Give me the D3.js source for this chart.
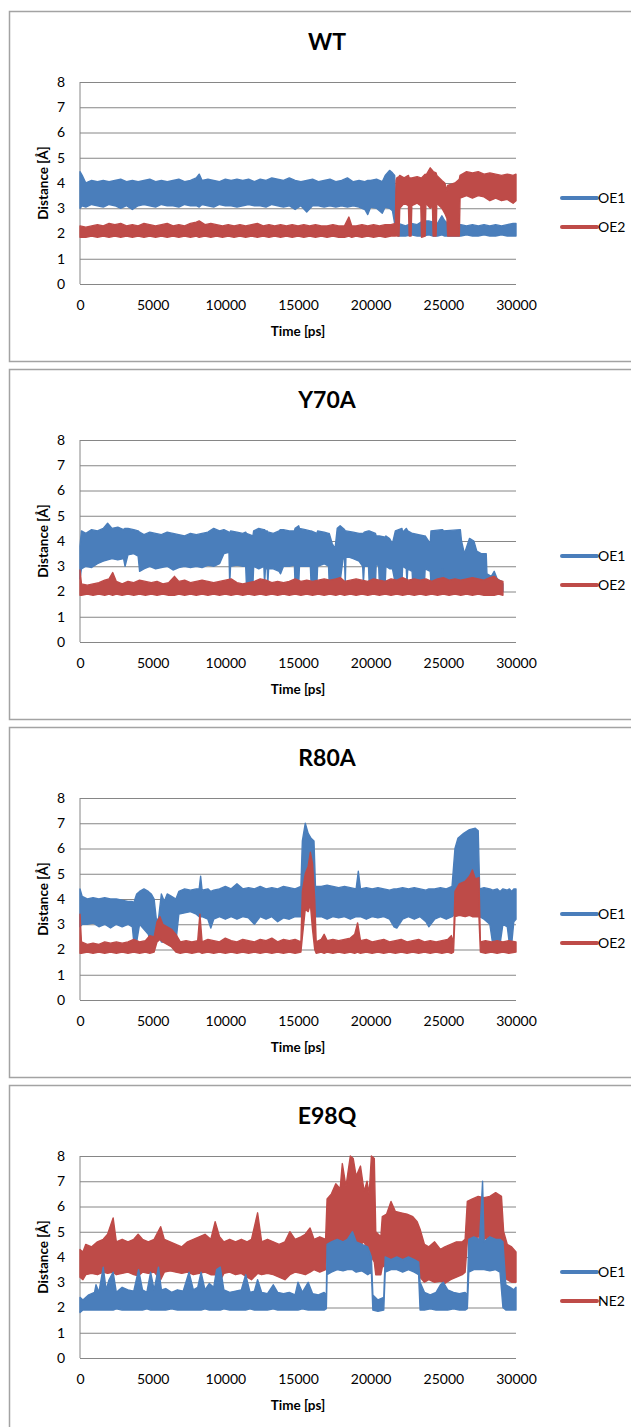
<!DOCTYPE html>
<html><head><meta charset="utf-8">
<script src="https://cdn.jsdelivr.net/npm/d3@7"></script>
<style>
html,body{margin:0;padding:0;background:#fff;}
svg{display:block;font-family:Lato,"Open Sans",sans-serif;}
</style></head>
<body>
<svg id="chart" width="631" height="1427"></svg>
<script>
// ---- data ----
const panelTitles = ["WT", "Y70A", "R80A", "E98Q"];
const legendNames = [["OE1", "OE2"], ["OE1", "OE2"], ["OE1", "OE2"], ["OE1", "NE2"]];
const xTicks = [0, 5000, 10000, 15000, 20000, 25000, 30000];
const yTicks = [0, 1, 2, 3, 4, 5, 6, 7, 8];
// each series: [time ps, lower envelope Å, upper envelope Å]
const wtOE1 = [[0,3.0,4.45],[150,3.1,4.3],[400,3.05,4.0],[800,3.15,4.1],[1200,3.1,4.05],[1600,3.05,4.1],[2000,3.15,4.05],[2400,3.1,4.1],[2800,3.0,4.15],[3200,3.1,4.05],[3600,2.95,4.1],[4000,3.1,4.05],[4400,3.15,4.1],[4800,3.1,4.15],[5200,3.05,4.05],[5600,3.15,4.1],[6000,3.1,4.05],[6400,3.1,4.1],[6800,3.05,4.15],[7200,3.15,4.05],[7600,3.1,4.1],[8000,3.1,4.2],[8200,3.05,4.35],[8400,3.15,4.1],[8800,3.1,4.15],[9200,3.05,4.1],[9600,3.15,4.05],[10000,3.1,4.15],[10400,3.1,4.1],[10800,3.05,4.15],[11200,3.1,4.1],[11600,3.15,4.15],[12000,3.1,4.05],[12400,3.1,4.15],[12800,3.05,4.1],[13200,3.15,4.2],[13600,3.1,4.15],[14000,3.05,4.1],[14400,3.1,4.2],[14800,2.95,4.1],[15200,3.1,4.05],[15600,2.85,4.1],[16000,3.1,4.15],[16400,3.1,4.05],[16800,3.05,4.1],[17200,3.1,4.15],[17600,3.05,4.05],[18000,3.1,4.1],[18400,3.05,4.2],[18800,3.1,4.05],[19200,3.05,4.1],[19600,2.95,4.05],[19800,2.75,4.1],[20000,3.05,4.1],[20400,3.0,4.15],[20800,2.8,4.05],[21000,3.05,4.3],[21300,3.0,4.5],[21500,2.9,4.4],[21650,2.4,4.3],[21750,2.0,3.0],[21900,1.9,2.4],[22400,1.9,2.3],[22800,1.95,2.4],[23200,1.9,2.35],[23600,1.9,2.5],[24000,1.95,2.5],[24300,1.9,2.45],[24600,1.9,2.4],[24900,1.95,2.7],[25100,1.9,2.5],[25400,1.9,2.35],[25800,1.9,2.3],[26200,1.9,2.35],[26600,1.95,2.3],[27000,1.9,2.35],[27400,1.9,2.3],[27800,1.95,2.35],[28200,1.9,2.3],[28600,1.9,2.35],[29000,1.95,2.3],[29400,1.9,2.35],[29800,1.9,2.4],[30000,1.9,2.4]];
const wtOE2 = [[0,1.85,2.3],[400,1.85,2.25],[800,1.9,2.3],[1200,1.85,2.35],[1600,1.9,2.3],[2000,1.85,2.4],[2400,1.9,2.35],[2800,1.85,2.4],[3200,1.9,2.3],[3600,1.85,2.35],[4000,1.9,2.3],[4400,1.85,2.4],[4800,1.9,2.35],[5200,1.85,2.3],[5600,1.9,2.35],[6000,1.85,2.4],[6400,1.9,2.3],[6800,1.85,2.35],[7200,1.9,2.3],[7600,1.85,2.4],[8000,1.9,2.45],[8200,1.85,2.5],[8600,1.9,2.35],[9000,1.85,2.4],[9400,1.9,2.35],[9800,1.85,2.3],[10200,1.9,2.35],[10600,1.85,2.3],[11000,1.9,2.35],[11400,1.85,2.3],[11800,1.9,2.35],[12200,1.85,2.4],[12600,1.9,2.3],[13000,1.85,2.35],[13400,1.9,2.3],[13800,1.85,2.35],[14200,1.9,2.3],[14600,1.85,2.35],[15000,1.9,2.3],[15400,1.85,2.35],[15800,1.9,2.3],[16200,1.85,2.35],[16600,1.9,2.3],[17000,1.85,2.3],[17400,1.9,2.35],[17800,1.85,2.3],[18200,1.85,2.3],[18500,1.9,2.65],[18700,1.85,2.3],[19000,1.9,2.3],[19400,1.85,2.35],[19800,1.9,2.3],[20200,1.85,2.35],[20600,1.9,2.3],[21000,1.85,2.35],[21400,1.9,2.35],[21700,1.9,2.4],[21750,2.0,4.1],[21800,1.9,4.2],[21950,1.9,4.25],[22000,3.0,4.3],[22300,3.2,4.2],[22600,3.1,4.3],[22650,1.9,4.2],[22780,1.9,4.2],[22830,3.1,4.2],[23200,3.2,4.25],[23450,3.1,4.2],[23500,1.85,4.2],[23750,1.9,4.35],[23800,3.2,4.3],[24100,3.0,4.6],[24250,3.1,4.5],[24300,1.9,4.45],[24500,1.9,4.4],[24550,3.2,4.3],[24900,3.0,4.1],[25100,2.8,4.0],[25250,2.6,3.7],[25300,1.9,3.9],[25800,1.9,4.0],[26100,1.9,4.15],[26150,3.4,4.3],[26600,3.5,4.45],[27000,3.4,4.4],[27400,3.5,4.45],[27800,3.45,4.35],[28200,3.3,4.4],[28600,3.4,4.35],[29000,3.3,4.3],[29400,3.35,4.35],[29800,3.2,4.3],[30000,3.3,4.35]];
const y70aOE1 = [[0,2.5,3.8],[100,2.9,4.4],[400,3.0,4.3],[800,2.95,4.45],[1200,3.1,4.4],[1600,3.2,4.5],[1900,3.25,4.7],[2200,3.3,4.5],[2600,3.25,4.55],[3000,3.3,4.45],[3100,3.0,4.5],[3300,3.45,4.5],[3700,3.5,4.45],[4000,3.4,4.4],[4100,2.8,4.35],[4400,2.9,4.25],[4800,3.0,4.35],[5200,2.9,4.3],[5600,2.95,4.25],[6000,3.0,4.35],[6400,2.85,4.3],[6800,2.95,4.25],[7200,3.0,4.2],[7600,2.95,4.3],[8000,3.0,4.25],[8400,2.95,4.3],[8800,3.05,4.35],[9200,3.0,4.5],[9600,3.1,4.4],[9900,3.5,4.45],[10250,3.55,4.35],[10300,2.3,4.3],[10360,3.0,4.4],[10800,3.05,4.35],[11200,3.0,4.3],[11400,3.0,4.35],[11450,2.3,4.3],[11900,2.3,4.2],[11950,3.0,4.4],[12300,2.9,4.5],[12650,3.0,4.45],[12700,2.3,4.45],[12760,2.9,4.4],[12880,2.9,4.4],[12920,2.3,4.35],[12980,2.9,4.35],[13300,2.9,4.3],[13700,2.8,4.4],[13800,2.7,4.45],[14000,3.0,4.45],[14400,3.0,4.4],[14750,3.05,4.4],[14800,2.3,4.5],[15050,2.3,4.6],[15100,3.0,4.5],[15500,3.0,4.45],[15850,3.0,4.4],[15900,2.3,4.4],[16300,2.3,4.3],[16350,3.0,4.4],[16800,3.1,4.35],[17100,3.0,4.3],[17150,2.3,4.3],[17350,2.3,3.9],[17550,2.3,3.7],[17700,2.3,4.5],[17900,2.4,4.6],[18100,3.3,4.5],[18200,3.3,4.45],[18250,2.3,4.4],[18300,3.4,4.4],[18800,3.3,4.35],[19200,3.2,4.3],[19450,3.0,4.3],[19500,2.3,4.3],[19560,3.0,4.35],[19850,3.0,4.4],[19900,2.3,4.4],[20330,2.3,4.3],[20380,3.1,4.2],[20550,3.0,4.2],[20600,2.3,4.2],[21000,2.3,4.15],[21050,3.0,4.2],[21300,2.9,4.1],[21500,2.9,3.9],[21700,2.3,4.4],[22150,2.3,4.5],[22200,3.0,4.35],[22450,2.9,4.5],[22500,2.3,4.45],[22550,2.9,4.4],[22850,2.8,4.3],[22900,2.3,4.3],[23700,2.3,4.2],[23750,2.9,4.2],[24100,2.8,3.9],[24150,2.3,4.4],[24900,2.3,4.45],[24950,2.9,4.45],[25000,2.3,4.4],[26170,2.3,4.45],[26250,2.4,4.0],[26450,2.3,3.5],[26800,2.3,4.1],[27100,2.3,4.0],[27300,2.3,3.6],[27600,2.3,3.5],[27950,2.3,3.5],[28000,2.2,2.7],[28300,2.2,2.6],[28500,1.9,2.8],[28700,2.0,2.5],[29000,2.0,2.4],[29100,2.0,2.3]];
const y70aOE2 = [[0,1.85,2.85],[100,1.85,2.3],[500,1.9,2.25],[900,1.85,2.3],[1300,1.9,2.35],[1700,1.85,2.45],[2000,1.9,2.5],[2250,1.85,2.75],[2500,1.9,2.4],[2900,1.85,2.3],[3300,1.9,2.4],[3700,1.85,2.35],[4100,1.9,2.45],[4500,1.85,2.4],[4900,1.9,2.35],[5300,1.85,2.4],[5700,1.9,2.3],[6100,1.85,2.35],[6500,1.85,2.6],[6800,1.9,2.4],[7200,1.85,2.45],[7600,1.9,2.35],[8000,1.85,2.4],[8400,1.9,2.45],[8800,1.85,2.4],[9200,1.9,2.35],[9600,1.85,2.4],[10000,1.9,2.45],[10400,1.85,2.5],[10800,1.9,2.35],[11200,1.85,2.3],[11600,1.9,2.35],[12000,1.85,2.4],[12400,1.9,2.5],[12800,1.85,2.45],[13200,1.9,2.35],[13600,1.85,2.4],[14000,1.9,2.35],[14400,1.85,2.4],[14800,1.9,2.5],[15200,1.85,2.4],[15600,1.9,2.45],[16000,1.85,2.4],[16400,1.9,2.45],[16800,1.85,2.5],[17200,1.9,2.45],[17600,1.85,2.5],[17900,1.9,2.55],[18200,1.85,2.4],[18600,1.9,2.45],[19000,1.85,2.5],[19400,1.9,2.45],[19800,1.85,2.4],[20200,1.9,2.5],[20600,1.85,2.45],[21000,1.9,2.4],[21400,1.85,2.5],[21800,1.9,2.45],[22200,1.85,2.55],[22600,1.9,2.45],[23000,1.85,2.5],[23400,1.9,2.45],[23800,1.85,2.5],[24200,1.9,2.4],[24600,1.85,2.5],[25000,1.9,2.55],[25400,1.85,2.45],[25800,1.9,2.5],[26200,1.85,2.45],[26600,1.9,2.5],[27000,1.85,2.55],[27400,1.9,2.5],[27800,1.85,2.45],[28200,1.85,2.55],[28500,1.85,2.6],[28800,1.9,2.45],[29100,1.85,2.4]];
const r80aOE1 = [[0,2.9,4.4],[150,3.0,4.1],[500,3.0,4.0],[900,3.05,4.05],[1300,2.9,4.0],[1700,3.0,4.05],[2100,2.85,4.0],[2500,3.0,4.0],[2900,2.9,3.95],[3300,3.0,3.9],[3600,2.9,3.9],[3700,2.3,3.85],[3900,2.3,4.2],[4100,3.0,4.3],[4400,2.8,4.4],[4700,2.6,4.3],[4900,2.2,4.2],[5100,2.0,4.0],[5250,2.5,3.2],[5400,2.6,3.2],[5600,2.3,4.2],[5800,2.3,3.9],[6000,2.3,4.2],[6300,2.4,4.1],[6600,2.3,4.0],[6800,3.4,4.3],[7200,3.45,4.4],[7600,3.5,4.35],[8000,3.4,4.4],[8200,3.3,4.4],[8300,3.3,4.9],[8400,3.3,4.35],[8800,3.2,4.4],[9000,2.85,4.3],[9200,3.2,4.35],[9600,3.3,4.4],[10000,3.2,4.5],[10400,3.3,4.4],[10800,3.2,4.6],[11200,3.3,4.4],[11600,3.25,4.45],[12000,3.0,4.4],[12400,3.3,4.5],[12800,3.2,4.4],[13200,3.3,4.45],[13600,3.1,4.4],[14000,3.25,4.5],[14400,3.2,4.45],[14800,3.3,4.4],[15200,3.3,4.5],[15300,3.8,6.3],[15500,4.0,7.0],[15700,3.9,6.6],[15900,4.0,6.4],[16100,3.4,6.3],[16200,3.3,4.5],[16600,3.3,4.5],[17000,3.2,4.55],[17400,3.3,4.5],[17800,3.25,4.45],[18200,3.3,4.5],[18600,3.2,4.45],[19000,3.3,4.4],[19150,3.3,5.1],[19300,3.3,4.4],[19700,3.2,4.45],[20100,3.3,4.4],[20500,3.25,4.45],[20900,3.3,4.4],[21300,3.2,4.35],[21600,2.9,4.4],[21800,2.85,4.4],[22200,3.2,4.45],[22600,3.3,4.4],[23000,3.2,4.45],[23400,3.3,4.4],[23800,3.1,4.35],[24000,2.9,4.4],[24400,3.2,4.4],[24800,3.3,4.45],[25200,3.2,4.4],[25600,3.3,4.5],[25800,3.4,6.0],[26000,3.8,6.4],[26400,4.0,6.6],[26800,4.0,6.75],[27200,4.0,6.8],[27400,3.6,6.7],[27500,3.3,4.4],[27800,3.2,4.45],[28200,3.0,4.4],[28400,2.2,4.35],[28700,2.2,4.4],[28900,2.2,4.3],[29100,3.0,4.4],[29400,2.9,4.35],[29550,2.2,4.4],[29700,2.2,4.3],[29850,3.1,4.4],[30000,3.2,4.4]];
const r80aOE2 = [[0,1.85,3.4],[100,1.85,2.3],[500,1.9,2.2],[900,1.85,2.25],[1300,1.9,2.2],[1700,1.85,2.3],[2100,1.9,2.25],[2500,1.85,2.3],[2900,1.9,2.25],[3300,1.85,2.3],[3700,1.9,2.4],[4100,1.85,2.3],[4500,1.9,2.35],[4800,1.85,2.55],[5100,1.9,2.5],[5300,2.3,3.1],[5500,2.4,3.3],[5700,2.3,3.0],[6000,2.2,2.9],[6300,2.1,2.8],[6600,1.9,2.6],[6900,1.85,2.3],[7300,1.9,2.35],[7700,1.85,2.3],[8100,1.9,2.35],[8250,1.9,3.4],[8400,1.85,2.3],[8800,1.9,2.4],[9200,1.85,2.35],[9600,1.9,2.3],[10000,1.85,2.45],[10400,1.9,2.35],[10800,1.85,2.3],[11200,1.9,2.4],[11600,1.85,2.35],[12000,1.9,2.3],[12400,1.85,2.4],[12800,1.9,2.35],[13200,1.85,2.45],[13600,1.9,2.3],[14000,1.85,2.4],[14400,1.9,2.35],[14800,1.85,2.4],[15200,1.9,2.3],[15300,2.5,4.3],[15500,3.6,5.0],[15700,3.5,5.3],[15850,3.8,5.85],[16000,2.8,5.4],[16150,2.0,4.0],[16250,1.85,2.3],[16600,1.9,2.4],[16800,1.85,2.6],[17000,1.9,2.35],[17400,1.85,2.4],[17800,1.9,2.35],[18200,1.85,2.4],[18600,1.9,2.45],[18900,1.85,2.6],[19100,1.9,3.05],[19300,1.85,2.35],[19700,1.9,2.4],[20100,1.85,2.3],[20500,1.9,2.35],[20900,1.85,2.4],[21300,1.9,2.3],[21700,1.85,2.35],[22100,1.9,2.4],[22500,1.85,2.3],[22900,1.9,2.35],[23300,1.85,2.4],[23700,1.9,2.3],[24100,1.85,2.35],[24500,1.9,2.3],[24900,1.85,2.35],[25300,1.9,2.4],[25550,1.85,2.55],[25700,1.9,2.3],[25800,3.3,4.3],[26100,3.35,4.6],[26500,3.3,4.7],[26800,3.35,4.9],[27000,3.3,5.15],[27200,3.3,4.8],[27450,3.3,4.85],[27550,1.9,2.3],[27900,1.85,2.35],[28300,1.9,2.3],[28700,1.85,2.35],[29100,1.9,2.3],[29500,1.85,2.35],[30000,1.9,2.3]];
const e98qOE1 = [[0,1.8,2.4],[200,1.9,2.3],[600,1.9,2.5],[1000,1.9,2.6],[1100,1.9,2.9],[1300,1.9,2.6],[1600,1.9,3.6],[1800,1.9,2.7],[2000,1.9,3.1],[2280,1.9,3.4],[2500,1.95,2.6],[2900,1.9,2.8],[3300,1.9,2.7],[3700,1.9,2.65],[4030,1.9,3.5],[4300,1.9,2.7],[4600,1.95,2.6],[4860,1.9,3.4],[5100,1.9,2.7],[5400,1.9,3.6],[5600,1.9,2.7],[5900,1.9,2.75],[6300,1.95,2.6],[6700,1.9,2.7],[7100,1.9,2.65],[7500,1.9,3.4],[7800,1.9,2.7],[8100,1.9,2.8],[8330,1.9,3.4],[8600,1.95,2.7],[8900,1.9,2.95],[9200,1.9,2.8],[9400,1.9,3.5],[9650,1.9,3.6],[9900,1.95,2.7],[10300,1.9,2.6],[10700,1.9,2.65],[11100,1.9,2.7],[11400,1.9,3.3],[11700,1.95,2.6],[12000,1.9,2.65],[12220,1.9,3.1],[12500,1.9,2.6],[12900,1.9,2.55],[13300,1.95,2.9],[13600,1.9,2.6],[14000,1.9,2.55],[14400,1.9,2.6],[14800,1.9,2.5],[15000,1.9,3.0],[15300,1.95,2.6],[15700,1.9,3.0],[16000,1.9,2.55],[16400,1.9,2.5],[16800,1.9,2.6],[16950,1.95,2.5],[17000,3.3,4.5],[17300,3.4,4.6],[17700,3.5,4.7],[18100,3.45,4.6],[18400,3.5,4.7],[18750,3.5,5.0],[19000,3.4,4.6],[19400,3.45,4.5],[19800,3.3,4.4],[20050,3.4,4.0],[20150,1.9,2.5],[20500,1.85,2.3],[20900,1.9,2.4],[21000,3.4,4.0],[21400,3.5,3.9],[21800,3.5,4.0],[22200,3.4,3.9],[22600,3.5,4.0],[23000,3.4,3.9],[23300,3.3,3.8],[23400,1.9,3.0],[23700,1.9,2.6],[24100,1.95,2.5],[24500,1.9,2.6],[24800,1.9,2.9],[25000,1.9,3.0],[25300,1.9,2.7],[25700,1.95,2.6],[26100,1.9,2.55],[26500,1.9,2.6],[26650,1.95,2.5],[26750,3.4,4.7],[27100,3.5,4.8],[27500,3.5,4.7],[27700,3.5,7.0],[27800,3.5,4.6],[28200,3.45,4.8],[28600,3.5,4.7],[28900,3.4,4.7],[29100,2.0,4.6],[29300,1.9,2.9],[29600,1.9,2.8],[29850,1.9,2.7],[30000,1.9,2.8]];
const e98qNE2 = [[0,3.2,4.3],[200,3.1,4.2],[400,3.3,4.5],[800,3.35,4.4],[1200,3.3,4.6],[1600,3.4,4.7],[1900,3.35,4.9],[2280,3.4,5.55],[2500,3.3,4.6],[2900,3.35,4.7],[3300,3.4,4.6],[3700,3.3,4.7],[4000,3.25,4.9],[4300,3.4,4.7],[4700,3.35,4.6],[5100,3.4,4.7],[5550,3.1,5.2],[5800,3.4,4.7],[6200,3.45,4.6],[6600,3.4,4.5],[7000,3.35,4.4],[7400,3.4,4.6],[7800,3.3,4.7],[8200,3.35,4.8],[8600,3.4,4.9],[9000,3.3,4.7],[9300,3.3,5.4],[9600,3.0,4.8],[9900,3.35,4.6],[10300,3.4,4.7],[10700,3.3,4.6],[11100,3.35,4.7],[11500,3.2,4.6],[11800,3.1,4.7],[12220,3.35,5.75],[12500,3.3,4.6],[12900,3.35,4.7],[13300,3.3,4.6],[13700,3.2,4.5],[14100,3.1,4.6],[14440,3.3,5.0],[14800,3.4,4.7],[15200,3.35,4.8],[15500,3.3,4.9],[15830,3.4,5.15],[16100,3.5,4.7],[16500,3.4,4.8],[16900,3.5,4.7],[17000,4.5,6.3],[17300,4.6,6.5],[17600,4.7,6.9],[17900,4.6,6.7],[18050,4.5,7.7],[18300,4.6,6.8],[18600,4.5,8.0],[18800,4.6,7.9],[19000,4.2,7.2],[19300,4.5,7.6],[19550,4.6,6.6],[19750,4.3,7.0],[19900,4.3,6.5],[20050,4.0,8.0],[20250,3.8,7.9],[20350,3.3,5.0],[20700,3.3,4.8],[20800,3.6,5.6],[21100,3.7,5.7],[21400,3.8,6.2],[21700,3.7,5.8],[22100,3.8,5.75],[22500,3.7,5.7],[22900,3.75,5.6],[23200,3.6,5.4],[23400,3.2,5.1],[23700,3.0,4.5],[24000,3.1,4.4],[24400,3.0,4.6],[24800,3.05,4.3],[25100,2.95,4.4],[25500,3.1,4.5],[25900,3.2,4.6],[26300,3.3,4.6],[26500,3.4,4.7],[26650,4.6,6.2],[27000,4.7,6.3],[27400,4.8,6.4],[27800,4.7,6.35],[28200,4.8,6.4],[28600,4.7,6.55],[29000,4.7,6.4],[29150,3.2,5.0],[29400,3.1,4.5],[29700,3.0,4.4],[30000,3.0,4.2]];

const panelSeries = [[wtOE1, wtOE2], [y70aOE1, y70aOE2], [r80aOE1, r80aOE2], [e98qOE1, e98qNE2]];
const seriesColors = ["#4A7EBB", "#BE4B48"];

// ---- drawing ----
const svg = d3.select("#chart");
const panelTop = [11, 369, 727, 1085];
const grid = "#868686";

panelTitles.forEach((title, i) => {
  const top = panelTop[i];
  const g = svg.append("g");
  g.append("rect").attr("x", 9.5).attr("y", top + 0.5).attr("width", 660).attr("height", 350)
    .attr("fill", "#fff").attr("stroke", "#a3a3a3").attr("stroke-width", 1.5);

  const x = d3.scaleLinear().domain([0, 30000]).range([80, 516]);
  const y = d3.scaleLinear().domain([0, 8]).range([top + 273, top + 71]);

  const ya = g.append("g").attr("transform", "translate(80,0)")
    .call(d3.axisLeft(y).tickValues(yTicks).tickSize(-436).tickPadding(15).tickFormat(d3.format("d")));
  ya.select(".domain").remove();
  ya.selectAll(".tick line").attr("stroke", grid).attr("stroke-width", 1);
  ya.selectAll(".tick text").attr("font-size", 14).attr("fill", "#000").attr("font-family", "Lato, sans-serif");

  const xa = g.append("g").attr("transform", `translate(0,${top + 273})`)
    .call(d3.axisBottom(x).tickValues(xTicks).tickSize(0).tickPadding(16).tickFormat(d3.format("d")));
  xa.select(".domain").remove();
  xa.selectAll(".tick text").attr("font-size", 14).attr("fill", "#000").attr("font-family", "Lato, sans-serif");

  g.append("line").attr("x1", 80).attr("x2", 80).attr("y1", y(8)).attr("y2", y(0))
    .attr("stroke", grid).attr("stroke-width", 1);

  const area = d3.area().x(d => x(d[0])).y0(d => y(d[1])).y1(d => y(d[2])).curve(d3.curveLinear);
  const order = i === 3 ? [1, 0] : [0, 1];
  order.forEach(k => {
    g.append("path").datum(panelSeries[i][k]).attr("d", area)
      .attr("fill", seriesColors[k]).attr("stroke", seriesColors[k])
      .attr("stroke-width", 1.4).attr("stroke-linejoin", "round");
  });

  g.append("text").attr("x", 327).attr("y", top + 39).attr("text-anchor", "middle")
    .attr("font-size", 23).attr("font-weight", "bold").attr("fill", "#000").text(title);

  g.append("text").attr("x", 298).attr("y", top + 325).attr("text-anchor", "middle")
    .attr("font-size", 13.5).attr("font-weight", "bold").attr("fill", "#000").text("Time [ps]");
  g.append("text").attr("transform", `translate(48,${top + 172}) rotate(-90)`).attr("text-anchor", "middle")
    .attr("font-size", 13.5).attr("font-weight", "bold").attr("fill", "#000").text("Distance [Å]");

  legendNames[i].forEach((name, k) => {
    const ly = top + 187 + k * 29;
    g.append("line").attr("x1", 562).attr("x2", 597).attr("y1", ly).attr("y2", ly)
      .attr("stroke", seriesColors[k]).attr("stroke-width", 4).attr("stroke-linecap", "round");
    g.append("text").attr("x", 598).attr("y", ly).attr("dy", "0.35em")
      .attr("font-size", 14).attr("fill", "#000").text(name);
  });
});
</script>
</body></html>
